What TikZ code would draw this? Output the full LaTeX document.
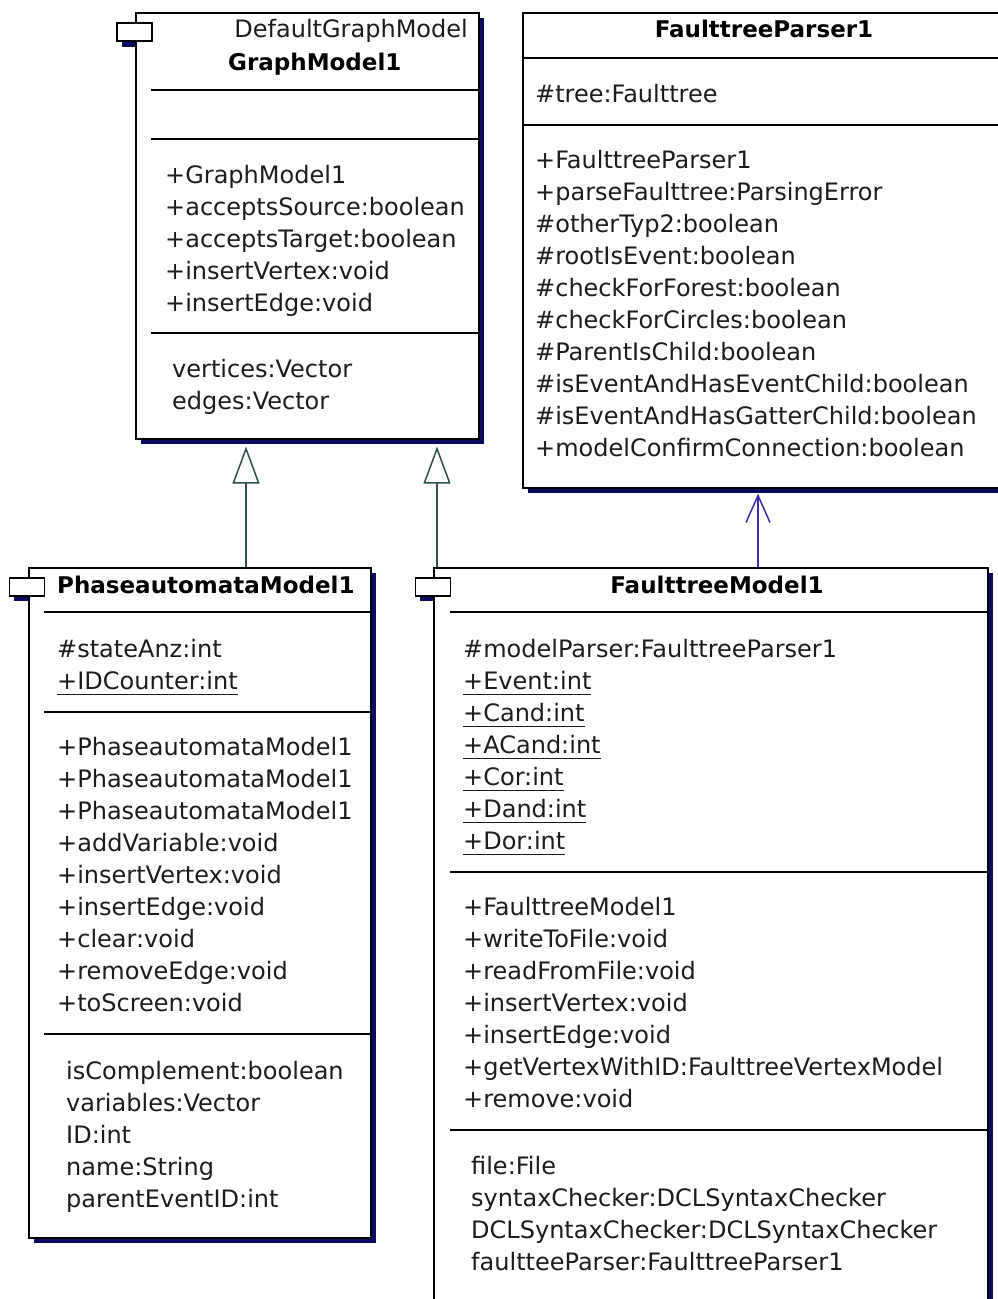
\documentclass[tikz,border=0pt]{standalone}
\usepackage{fontspec}
\setmainfont{DejaVu Sans}
\usetikzlibrary{arrows.meta}

\definecolor{shade}{HTML}{0B0B62}
\definecolor{ink}{HTML}{1C1C1C}
\definecolor{genline}{HTML}{2F4F4F}
\definecolor{assoc}{HTML}{3A2DB0}

% underlined (static) member: rule 6pt under the baseline, as wide as the text
\newcommand\staticmember[1]{\setbox0\hbox{#1}\rlap{\rule[-6pt]{\wd0}{1.3pt}}\box0}

\tikzset{
  boxshadow/.style={fill=shade, draw=none},
  classbox/.style={draw=black, line width=1.6pt, fill=white},
  iconbox/.style={draw=black, line width=1.4pt, fill=white, inner sep=0,
    minimum width=35pt, minimum height=18pt},
  compsep/.style={draw=black, line width=1.4pt},
  member/.style={anchor=base west, inner sep=0, text=ink,
    font=\fontsize{24}{24}\selectfont},
  classtitle/.style={anchor=base, inner sep=0, text=black,
    font=\fontsize{23}{23}\selectfont\bfseries},
  gen/.style={genline, line width=1.5pt,
    -{Triangle[open, length=37pt, width=27pt, line width=1.5pt]}},
  nav/.style={assoc, line width=1.5pt,
    -{Straight Barb[length=27pt, width=24pt, line width=1.5pt]}},
}

\begin{document}
\begin{tikzpicture}[x=1pt, y=-1pt]
\useasboundingbox (0,0) rectangle (998,1299);
\clip (0,0) rectangle (998,1299);

% ---------------- GraphModel1 ----------------
\fill[boxshadow] (122,29) rectangle (157,47);
\fill[boxshadow] (141,18) rectangle (484,444);
\node[classbox, anchor=north west, minimum width=343pt, minimum height=426pt, inner sep=0] (gm) at (135,12) {};
\node[iconbox] (gmicon) at (134.5,32) {};
\node[member, anchor=base east] (gmsuper) at (468,37) {DefaultGraphModel};
\node[classtitle, anchor=base west] (gmtitle) at (228,70) {GraphModel1};
\draw[compsep] (151,90) -- (478,90);
\draw[compsep] (151,139) -- (478,139);
\draw[compsep] (151,333) -- (478,333);
\foreach \t [count=\i from 0] in {+GraphModel1, +acceptsSource:boolean,
    +acceptsTarget:boolean, +insertVertex:void, +insertEdge:void}
  \node[member] (gm-op\i) at (165,183+32*\i) {\t};
\foreach \t [count=\i from 0] in {vertices:Vector, edges:Vector}
  \node[member] (gm-at\i) at (172,377+32*\i) {\t};

% ---------------- FaulttreeParser1 ----------------
\fill[boxshadow] (528,18) rectangle (1030,493);
\node[classbox, anchor=north west, minimum width=500pt, minimum height=475pt, inner sep=0] (ftp) at (522,12) {};
\node[classtitle] (ftptitle) at (764,37) {FaulttreeParser1};
\draw[compsep] (522,58) -- (1022,58);
\draw[compsep] (522,125) -- (1022,125);
\node[member] (ftp-at0) at (535,102) {\#tree:Faulttree};
\foreach \t [count=\i from 0] in {+FaulttreeParser1, +parseFaulttree:ParsingError,
    \#otherTyp2:boolean, \#rootIsEvent:boolean, \#checkForForest:boolean,
    \#checkForCircles:boolean, \#ParentIsChild:boolean,
    \#isEventAndHasEventChild:boolean, \#isEventAndHasGatterChild:boolean,
    +modelConfirmConnection:boolean}
  \node[member] (ftp-op\i) at (535,168+32*\i) {\t};

% ---------------- PhaseautomataModel1 ----------------
\fill[boxshadow] (14,583) rectangle (49,601);
\fill[boxshadow] (34,573) rectangle (376,1243);
\node[classbox, anchor=north west, minimum width=342pt, minimum height=670pt, inner sep=0] (pam) at (28,567) {};
\node[iconbox] (pamicon) at (27,587) {};
\node[classtitle, anchor=base west] (pamtitle) at (57,593) {PhaseautomataModel1};
\draw[compsep] (44,612) -- (370,612);
\draw[compsep] (44,712) -- (370,712);
\draw[compsep] (44,1034) -- (370,1034);
\node[member] (pam-at0) at (57,657) {\#stateAnz:int};
\node[member] (pam-at1) at (57,689) {\staticmember{+IDCounter:int}};
\foreach \t [count=\i from 0] in {+PhaseautomataModel1, +PhaseautomataModel1,
    +PhaseautomataModel1, +addVariable:void, +insertVertex:void,
    +insertEdge:void, +clear:void, +removeEdge:void, +toScreen:void}
  \node[member] (pam-op\i) at (57,755+32*\i) {\t};
\foreach \t [count=\i from 0] in {isComplement:boolean, variables:Vector,
    ID:int, name:String, parentEventID:int}
  \node[member] (pam-fd\i) at (66,1079+32*\i) {\t};

% ---------------- FaulttreeModel1 ----------------
\fill[boxshadow] (420,583) rectangle (455,601);
\fill[boxshadow] (439,573) rectangle (993,1330);
\node[classbox, anchor=north west, minimum width=554pt, minimum height=760pt, inner sep=0] (ftm) at (433,567) {};
\node[iconbox] (ftmicon) at (433,587) {};
\node[classtitle] (ftmtitle) at (717,593) {FaulttreeModel1};
\draw[compsep] (450,612) -- (987,612);
\draw[compsep] (450,872) -- (987,872);
\draw[compsep] (450,1130) -- (987,1130);
\node[member] (ftm-at0) at (463,657) {\#modelParser:FaulttreeParser1};
\foreach \t [count=\i from 1] in {+Event:int, +Cand:int, +ACand:int,
    +Cor:int, +Dand:int, +Dor:int}
  \node[member] (ftm-at\i) at (463,657+32*\i) {\staticmember{\t}};
\foreach \t [count=\i from 0] in {+FaulttreeModel1, +writeToFile:void,
    +readFromFile:void, +insertVertex:void, +insertEdge:void,
    +getVertexWithID:FaulttreeVertexModel, +remove:void}
  \node[member] (ftm-op\i) at (463,915+32*\i) {\t};
\foreach \t [count=\i from 0] in {file:File, syntaxChecker:DCLSyntaxChecker,
    DCLSyntaxChecker:DCLSyntaxChecker, faultteeParser:FaulttreeParser1}
  \node[member] (ftm-fd\i) at (471,1174+32*\i) {\t};

% ---------------- relations ----------------
\draw[gen, shorten >=7pt] (pam.north -| 246,0) -- (gm.south -| 246,0);
\draw[gen, shorten >=7pt] (ftm.north -| 437,0) -- (gm.south -| 437,0);
\draw[nav, shorten >=5pt] (ftm.north -| 758,0) -- (ftp.south -| 758,0);
\end{tikzpicture}
\end{document}
